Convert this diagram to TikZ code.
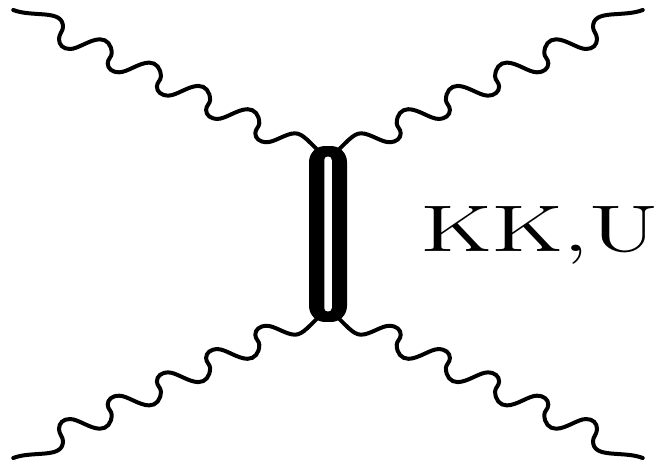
\documentclass[tikz,border=0pt]{standalone}
\usetikzlibrary{backgrounds}
\font\kkfont="[lmroman12-regular.otf]" at 37.5pt
\tikzset{
  every picture/.style={x=0.02cm, y=-0.02cm},
  boson/.style={draw=black, line width=0.08cm, line cap=round},
  barbox/.style={fill=black, rounded corners=0.32cm, minimum width=0.76cm, minimum height=3.52cm, inner sep=0pt},
  slitbox/.style={fill=white, rounded corners=0.07cm, minimum width=0.15cm, minimum height=3.1cm, inner sep=0pt},
  kktext/.style={font=\kkfont, inner sep=0pt, xscale=1.42, transform shape},
}

\begin{document}
\begin{tikzpicture}
  \useasboundingbox (0,0) rectangle (662,463);
  % the thick propagator with its white slit
  \node[barbox] (bar) at (328,234) {};
  \node[slitbox] (slit) at (bar.center) {};
  \node[kktext, anchor=base west] (kk) at (421,251) {KK,U};
  % the four wavy legs are one curve, mirrored about the centre of the bar
  \begin{scope}[on background layer]
  \foreach \sx/\sy/\corner in {1/1/north west, -1/1/north east, 1/-1/south west, -1/-1/south east} {
    \begin{scope}[shift={(328,234)}, xscale=\sx, yscale=\sy, shift={(-328,-234)}]
      \draw[boson] (13.3,10) .. controls (22,13.5) and (33,13.5) .. (45,14.5)
        .. controls (56,15.5) and (63,18) .. (63,27)
        .. controls (63,31) and (59,34) .. (59,39)
        .. controls (59,45) and (63,49) .. (70,49)
        \foreach \k [evaluate=\k as \tx using 70+49.2*\k, evaluate=\k as \ty using 49+23.3*\k] in {0,1,2,3} {
          .. controls ({\tx+8},\ty) and ({\tx+20},{\ty-9.7}) .. ({\tx+30},{\ty-9.7})
          .. controls ({\tx+37},{\ty-9.7}) and ({\tx+41.7},{\ty-4}) .. ({\tx+41.7},{\ty+4.3})
          .. controls ({\tx+41.7},{\ty+8}) and ({\tx+37.7},{\ty+10}) .. ({\tx+37.7},{\ty+14.3})
          .. controls ({\tx+37.7},{\ty+19.5}) and ({\tx+42},{\ty+23.3}) .. ({\tx+49.2},{\ty+23.3})
        }
        .. controls (274.8,142.2) and (286,133.3) .. (295,133.3)
        .. controls (303,133.3) and (310,143) .. (slit.\corner);
    \end{scope}
  }
  \end{scope}
\end{tikzpicture}
\end{document}
